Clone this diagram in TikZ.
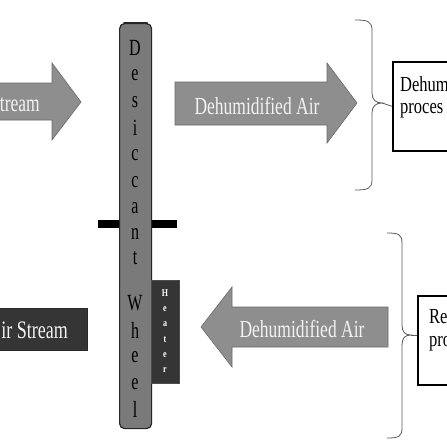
\documentclass[tikz,border=0pt]{standalone}
\usepackage{fontspec}
\setmainfont{Liberation Serif}
\newcommand\talltext[2][1.4]{\scalebox{1}[#1]{#2}}
\definecolor{arrowgray}{HTML}{8E8E8E}
\definecolor{arrowedge}{HTML}{6A6A6A}
\definecolor{wheelgray}{HTML}{7A7A7A}
\definecolor{darkbox}{HTML}{353535}
\definecolor{bracegray}{HTML}{5A5A5A}
\definecolor{lighttext}{HTML}{F2F2F2}
\tikzset{
  blockarrow/.style={fill=arrowgray, draw=arrowedge, line width=0.6pt},
  arrowtext/.style={inner sep=0pt, text=lighttext, font=\fontsize{17.5}{17.5}\selectfont},
  wheelletter/.style={inner sep=0pt, text=black, font=\fontsize{16}{16}\selectfont},
  heaterletter/.style={inner sep=0pt, text=white, font=\fontsize{8}{8}\selectfont\bfseries},
  bracepath/.style={draw=bracegray, line width=0.8pt},
  procbox/.style={draw=black, line width=1.5pt, fill=white, anchor=north west, inner sep=0pt},
  boxtext/.style={inner sep=0pt, anchor=west, text=black, font=\fontsize{16.5}{16.5}\selectfont},
}
\begin{document}
\begin{tikzpicture}[x=1pt,y=-1pt]
\useasboundingbox (0,0) rectangle (447,447);
\clip (0,0) rectangle (447,447);
\fill[white] (0,0) rectangle (447,447);

% top-left arrow
\draw[blockarrow] (-2,83) -- (52,83) -- (52,63) -- (81,102) -- (52,140) -- (52,120) -- (-2,120) -- cycle;
\node[arrowtext, anchor=east] (tl) at (40,105) {\talltext{tream}};

% bottom-left dark box
\node[fill=darkbox, draw=darkbox!80!black, anchor=north west, minimum width=90pt, minimum height=42pt, inner sep=0pt] (bl) at (-3,308) {};
\node[arrowtext, anchor=east, font=\fontsize{18}{18}\selectfont] (bltext) at (68,330) {\talltext{ir Stream}};

% shaft bar
\fill[black] (98,220) rectangle (177,228);

% desiccant wheel
\node[fill=wheelgray, draw=black!85, line width=1.2pt, rounded corners=5pt, anchor=north west, minimum width=32pt, minimum height=405pt, inner sep=0pt] (wheel) at (119,23) {};
\draw[line width=2pt, black!85, line cap=round] ([xshift=5pt]wheel.north west) -- ([xshift=-5pt]wheel.north east);
\foreach \l/\y [count=\i] in {D/48, e/75, s/102, i/128, c/155, c/182, a/208, n/234, t/258, W/303, h/330, e/357, e/384, l/409}
  \node[wheelletter] (w\i) at (135,\y) {\talltext[1.45]{\l}};

% heater
\node[fill=darkbox, draw=black!70, line width=0.6pt, anchor=north west, minimum width=28pt, minimum height=103pt, inner sep=0pt] (heater) at (151,280) {};
\foreach \l/\y [count=\i] in {H/293, e/309, a/324, t/340, e/355, r/370}
  \node[heaterletter] (h\i) at (165,\y) {\talltext[1.3]{\l}};

% top dehumidified air arrow
\draw[blockarrow] (175,82) -- (327,82) -- (327,63) -- (357,103) -- (327,143) -- (327,125) -- (175,125) -- cycle;
\node[arrowtext] (ta) at (257,106) {\talltext{Dehumidified Air}};

% bottom dehumidified air arrow
\draw[blockarrow] (388,307) -- (232,307) -- (232,287) -- (201,327) -- (232,367) -- (232,347) -- (388,347) -- cycle;
\node[arrowtext] (ba) at (302,329) {\talltext{Dehumidified Air}};

% top brace and box
\coordinate (c1) at (382,103);
\draw[bracepath] (355,20) .. controls (367,20) and (372,21) .. (372,30) -- (372,93) .. controls (372,100) and (376,103) .. (c1) .. controls (376,103) and (372,106) .. (372,113) -- (372,180) .. controls (372,189) and (367,190) .. (355,190);
\node[procbox, minimum width=70pt, minimum height=89pt] (box1) at (392,61) {};
\draw[bracepath] (c1) -- (box1.west);
\node[boxtext] (b1l1) at (400,84) {\talltext[1.3]{Dehum}};
\node[boxtext] (b1l2) at (400,111) {\talltext[1.3]{proces}};

% bottom brace and box
\coordinate (c2) at (411,335);
\draw[bracepath] (387,233) .. controls (398,233) and (402,234) .. (402,243) -- (402,325) .. controls (402,332) and (405,335) .. (c2) .. controls (405,335) and (402,338) .. (402,345) -- (402,428) .. controls (402,437) and (398,438) .. (387,438);
\node[procbox, minimum width=45pt, minimum height=89pt] (box2) at (417,295) {};
\draw[bracepath] (c2) -- (box2.west |- c2);
\node[boxtext] (b2l1) at (429,317) {\talltext[1.3]{Re}};
\node[boxtext] (b2l2) at (429,344) {\talltext[1.3]{pro}};
\end{tikzpicture}
\end{document}
